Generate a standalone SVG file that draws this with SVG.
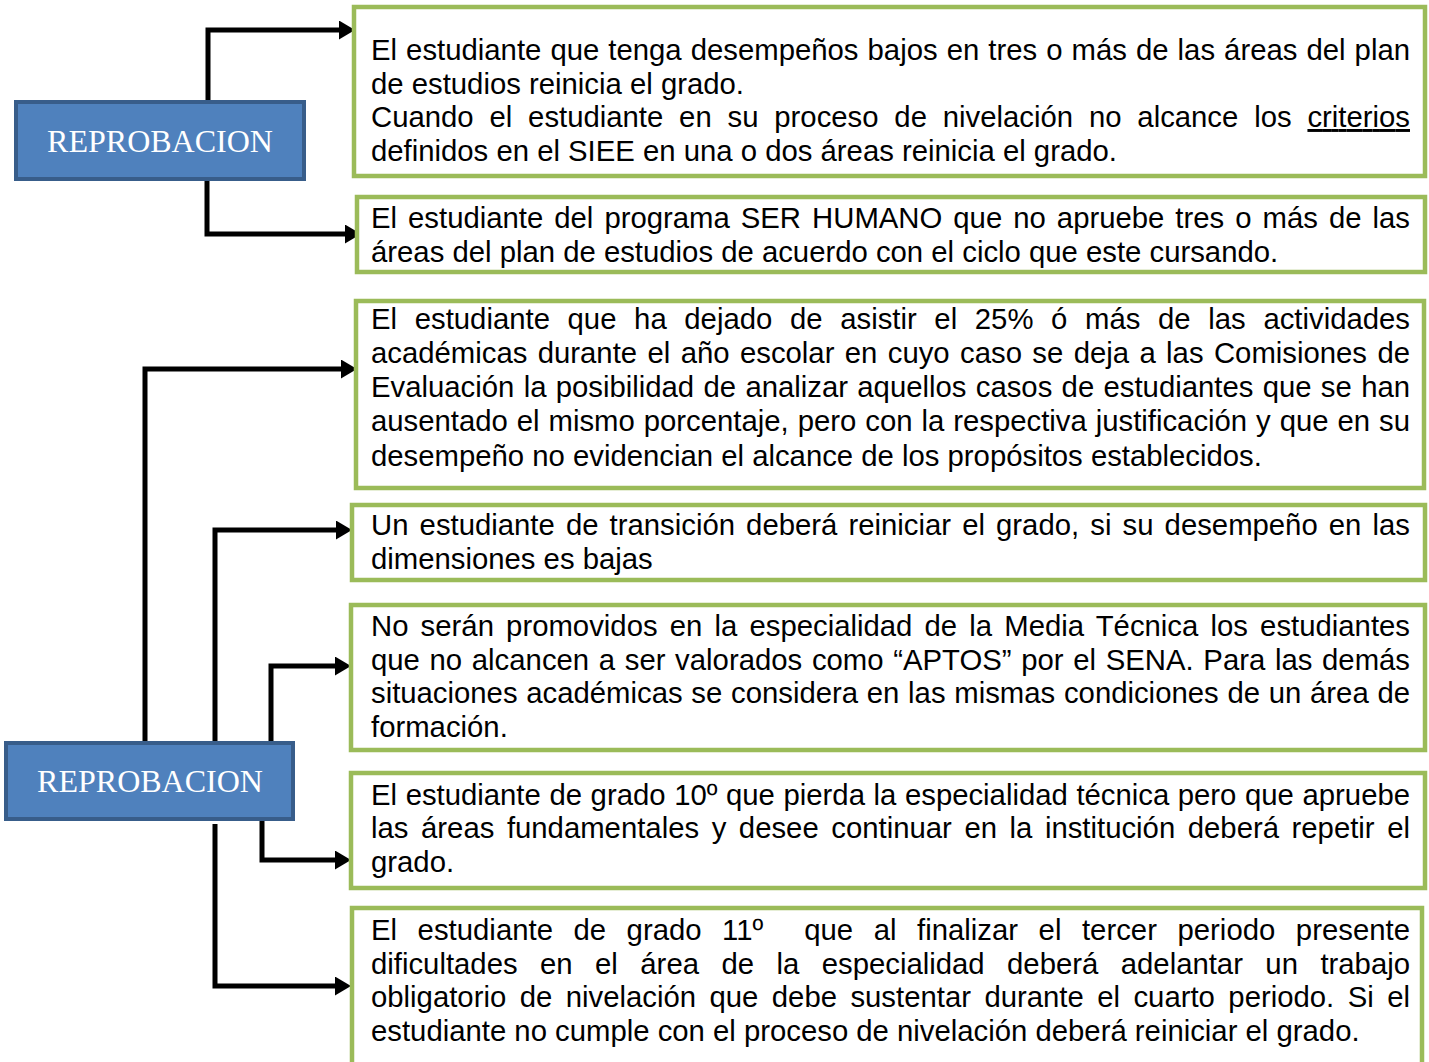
<svg xmlns="http://www.w3.org/2000/svg" width="1429" height="1062" viewBox="0 0 1429 1062">
<style>
.root{fill:#4F81BD;stroke:#385D8A;stroke-width:4}
.rt{font-family:"Liberation Serif","Times New Roman",serif;font-size:32px;fill:#fff;text-anchor:middle}
.box{fill:#fff;stroke:#9BBB59;stroke-width:4.5}
.t{font-family:"Liberation Sans",Arial,sans-serif;font-size:29.3px;fill:#000;white-space:pre}
.c{fill:none;stroke:#000;stroke-width:5;stroke-linejoin:miter}
</style>
<defs>
<marker id="ah" viewBox="0 0 16 19" refX="0" refY="9.5" markerWidth="16" markerHeight="19" markerUnits="userSpaceOnUse" orient="auto">
<path d="M0,0 L16,9.5 L0,19 z" fill="#000"/>
</marker>
</defs>
<rect width="1429" height="1062" fill="#fff"/>
<g id="connectors">
<path class="c" d="M208,102 V30 H339" marker-end="url(#ah)"/>
<path class="c" d="M207,180 V234 H345" marker-end="url(#ah)"/>
<path class="c" d="M145,743 V369 H341" marker-end="url(#ah)"/>
<path class="c" d="M215,743 V530 H336" marker-end="url(#ah)"/>
<path class="c" d="M271,743 V666 H335" marker-end="url(#ah)"/>
<path class="c" d="M262,819 V860 H335" marker-end="url(#ah)"/>
<path class="c" d="M215,824 V986 H335" marker-end="url(#ah)"/>
</g>
<g id="reprobacion1">
<rect class="root" x="16" y="102" width="288" height="77"/>
<text class="rt" x="160" y="152">REPROBACION</text>
</g>
<g id="reprobacion2">
<rect class="root" x="6" y="743" width="287" height="76"/>
<text class="rt" x="150" y="792">REPROBACION</text>
</g>
<g id="nodeA">
<rect class="box" x="354" y="7" width="1071" height="169"/>
<text class="t" x="371" y="60" word-spacing="0.9" textLength="1039" lengthAdjust="spacing">El estudiante que tenga desempeños bajos en tres o más de las áreas del plan</text>
<text class="t" x="371" y="93.5">de estudios reinicia el grado.</text>
<text class="t" x="371" y="127" word-spacing="7.7" textLength="1039" lengthAdjust="spacing">Cuando el estudiante en su proceso de nivelación no alcance los <tspan text-decoration="underline">criterios</tspan></text>
<text class="t" x="371" y="161">definidos en el SIEE en una o dos áreas reinicia el grado.</text>
</g>
<g id="nodeB">
<rect class="box" x="357" y="197" width="1068" height="75"/>
<text class="t" x="371" y="228" word-spacing="2.9" textLength="1039" lengthAdjust="spacing">El estudiante del programa SER HUMANO que no apruebe tres o más de las</text>
<text class="t" x="371" y="262">áreas del plan de estudios de acuerdo con el ciclo que este cursando.</text>
</g>
<g id="nodeC">
<rect class="box" x="356" y="301" width="1068" height="187"/>
<text class="t" x="371" y="329" word-spacing="9.5" textLength="1039" lengthAdjust="spacing">El estudiante que ha dejado de asistir el 25% ó más de las actividades</text>
<text class="t" x="371" y="363" word-spacing="2.25" textLength="1039" lengthAdjust="spacing">académicas durante el año escolar en cuyo caso se deja a las Comisiones de</text>
<text class="t" x="371" y="397" word-spacing="1.2" textLength="1039" lengthAdjust="spacing">Evaluación la posibilidad de analizar aquellos casos de estudiantes que se han</text>
<text class="t" x="371" y="431" word-spacing="0.8" textLength="1039" lengthAdjust="spacing">ausentado el mismo porcentaje, pero con la respectiva justificación y que en su</text>
<text class="t" x="371" y="466">desempeño no evidencian el alcance de los propósitos establecidos.</text>
</g>
<g id="nodeD">
<rect class="box" x="352" y="505" width="1073" height="75"/>
<text class="t" x="371" y="535" word-spacing="3" textLength="1039" lengthAdjust="spacing">Un estudiante de transición deberá reiniciar el grado, si su desempeño en las</text>
<text class="t" x="371" y="569">dimensiones es bajas</text>
</g>
<g id="nodeE">
<rect class="box" x="351" y="605" width="1074" height="145"/>
<text class="t" x="371" y="636" word-spacing="4" textLength="1039" lengthAdjust="spacing">No serán promovidos en la especialidad de la Media Técnica los estudiantes</text>
<text class="t" x="371" y="670" word-spacing="1.5" textLength="1039" lengthAdjust="spacing">que no alcancen a ser valorados como “APTOS” por el SENA. Para las demás</text>
<text class="t" x="371" y="703" word-spacing="0.6" textLength="1039" lengthAdjust="spacing">situaciones académicas se considera en las mismas condiciones de un área de</text>
<text class="t" x="371" y="737">formación.</text>
</g>
<g id="nodeF">
<rect class="box" x="351" y="773" width="1074" height="115"/>
<text class="t" x="371" y="805" word-spacing="0.5" textLength="1039" lengthAdjust="spacing">El estudiante de grado 10º que pierda la especialidad técnica pero que apruebe</text>
<text class="t" x="371" y="838" word-spacing="4.4" textLength="1039" lengthAdjust="spacing">las áreas fundamentales y desee continuar en la institución deberá repetir el</text>
<text class="t" x="371" y="872">grado.</text>
</g>
<g id="nodeG">
<rect class="box" x="352" y="908" width="1070" height="170"/>
<text class="t" x="371" y="940" word-spacing="12.3" textLength="1039" lengthAdjust="spacing">El estudiante de grado 11º  que al finalizar el tercer periodo presente</text>
<text class="t" x="371" y="974" word-spacing="14.3" textLength="1039" lengthAdjust="spacing">dificultades en el área de la especialidad deberá adelantar un trabajo</text>
<text class="t" x="371" y="1007" word-spacing="5.3" textLength="1039" lengthAdjust="spacing">obligatorio de nivelación que debe sustentar durante el cuarto periodo. Si el</text>
<text class="t" x="371" y="1041">estudiante no cumple con el proceso de nivelación deberá reiniciar el grado.</text>
</g>
</svg>
